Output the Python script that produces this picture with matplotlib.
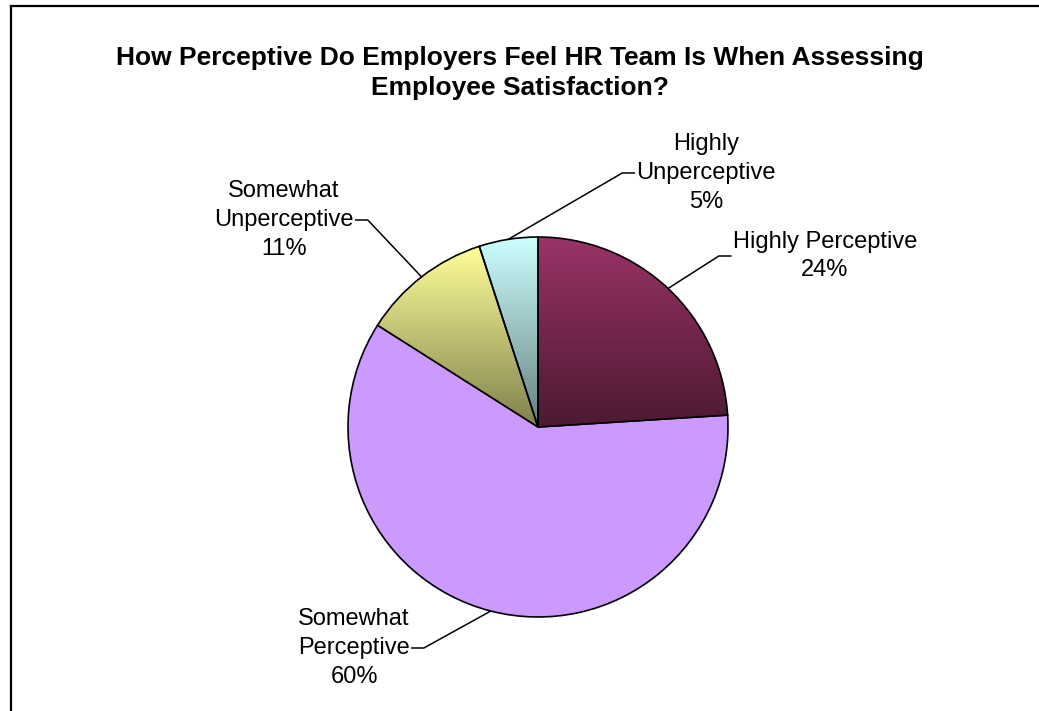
import numpy as np
import matplotlib
matplotlib.use("Agg")
import matplotlib.pyplot as plt
from matplotlib.colors import to_rgb
from matplotlib.lines import Line2D

# Data
labels = ["Highly Perceptive", "Somewhat\nPerceptive", "Somewhat\nUnperceptive", "Highly\nUnperceptive"]
values = [24, 60, 11, 5]
colors = ["#993366", "#CC99FF", "#FFFF99", "#CCFFFF"]
gradient = [True, False, True, True]

title = "How Perceptive Do Employers Feel HR Team Is When Assessing\nEmployee Satisfaction?"

# Layout in pixels (figure is 1039 x 711)
W, H = 1039, 711
cx, cy, R = 538, 427, 190
# label block centre (x, y) and which side the leader enters
label_pos = [(825, 256, "left"), (354, 648, "right"), (284, 220, "right"), (706, 173, "left")]
elbow_len = 12
font = "Liberation Sans"

fig = plt.figure(figsize=(W / 100, H / 100), dpi=100)
ax = fig.add_axes([0, 0, 1, 1])


def px(x, y):
    return (x - cx) / R, (cy - y) / R


wedges, _ = ax.pie(values, startangle=90, counterclock=False, radius=1,
                   colors=colors, wedgeprops=dict(edgecolor="black", linewidth=1.2),
                   center=(0, 0), frame=True)
ax.set_xlim(-cx / R, (W - cx) / R)
ax.set_ylim(-(H - cy) / R, cy / R)
ax.set_aspect("equal")
ax.axis("off")

# vertical gradient fills (light on top, darker at the bottom)
for w, c, g in zip(wedges, colors, gradient):
    if not g:
        continue
    ts = np.linspace(np.deg2rad(w.theta1), np.deg2rad(w.theta2), 100)
    ys = np.concatenate([[0], np.sin(ts)])
    xs = np.concatenate([[0], np.cos(ts)])
    base = np.array(to_rgb(c))
    frac = np.linspace(0, 1, 256)[:, None]
    img = (base * (1 - frac) + base * 0.5 * frac)[:, None, :]
    im = ax.imshow(img, extent=[xs.min(), xs.max(), ys.min(), ys.max()], origin="upper",
                   aspect="auto", zorder=w.get_zorder() + 0.1, interpolation="bilinear")
    im.set_clip_path(w)
    w.set_facecolor("none")
    w.set_zorder(w.get_zorder() + 0.2)

# labels with leader lines
fig.canvas.draw()
for w, lab, v, (lx, ly, side) in zip(wedges, labels, values, label_pos):
    mid = np.deg2rad((w.theta1 + w.theta2) / 2)
    ex, ey = np.cos(mid), np.sin(mid)
    txt = ax.text(*px(lx, ly), f"{lab}\n{v}%", ha="center", va="center",
                  multialignment="center", fontsize=17, family=font, linespacing=1.4)
    bb = txt.get_window_extent(renderer=fig.canvas.get_renderer())
    if side == "left":
        x_end = bb.x0 - 2
        x_elb = x_end - elbow_len
    else:
        x_end = bb.x1 + 2
        x_elb = x_end + elbow_len
    xe, ye = px(x_end, ly)
    xb, yb = px(x_elb, ly)
    ax.plot([ex, xb, xe], [ey, yb, ye], color="black", lw=1.1, zorder=10)

ax.text(*px(W / 2, 73), title, ha="center", va="center", fontsize=19,
        fontweight="bold", family=font, linespacing=1.35)

# chart frame (only left and top edges visible)
fig.add_artist(Line2D([11 / W, 11 / W], [0, 1 - 6 / H], transform=fig.transFigure,
                      color="black", lw=1.6))
fig.add_artist(Line2D([11 / W, 1], [1 - 6 / H, 1 - 6 / H], transform=fig.transFigure,
                      color="black", lw=1.6))

fig.savefig("out.png", dpi=100)
